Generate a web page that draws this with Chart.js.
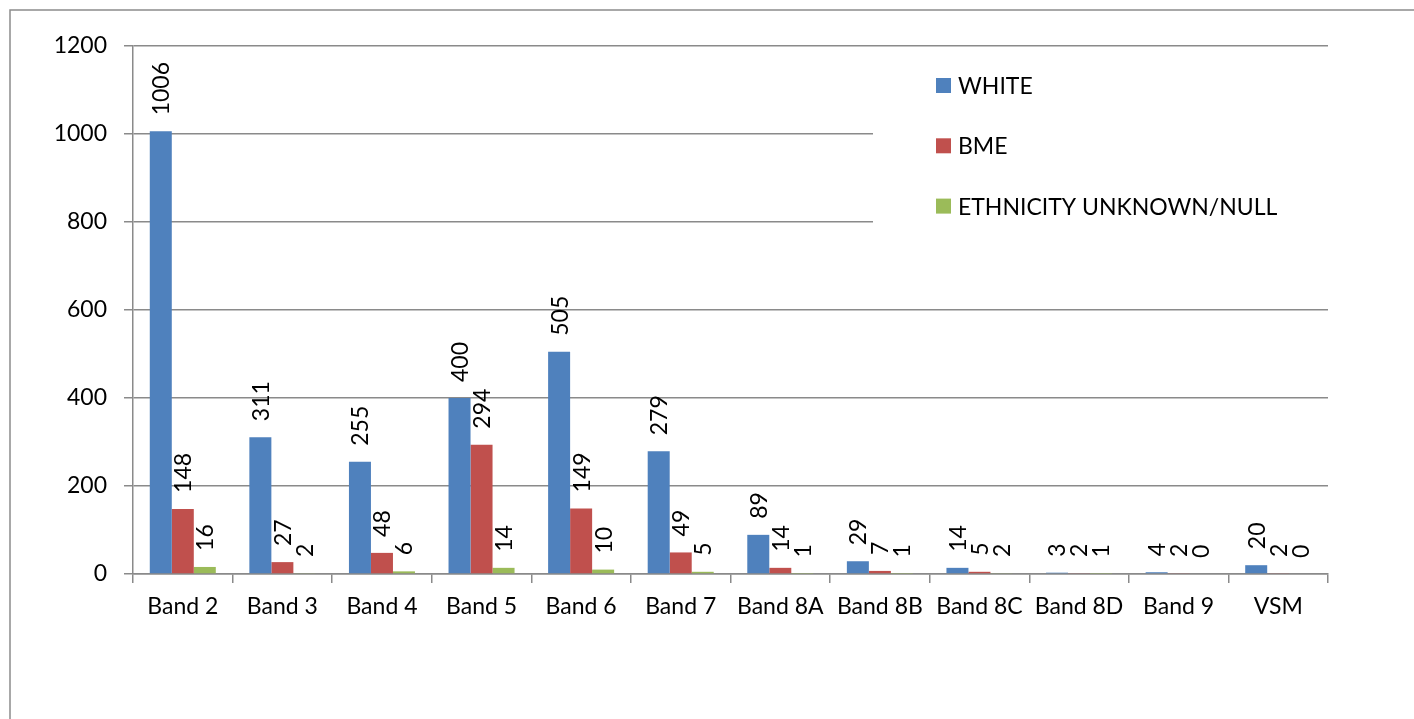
<!DOCTYPE html>
<html>
<head>
<meta charset="utf-8">
<title>Staff by band and ethnicity</title>
<script src="https://cdn.jsdelivr.net/npm/chart.js@4.4.1/dist/chart.umd.min.js"></script>
<style>
  html, body { margin: 0; padding: 0; background: #ffffff; }
  #wrap { position: relative; width: 1414px; height: 719px; }
</style>
</head>
<body>
<div id="wrap"><canvas id="chart" width="1414" height="719"></canvas></div>
<script>
// Pay bands along the x axis
const bands = ['Band 2', 'Band 3', 'Band 4', 'Band 5', 'Band 6', 'Band 7',
               'Band 8A', 'Band 8B', 'Band 8C', 'Band 8D', 'Band 9', 'VSM'];

// Headcount per band for each ethnicity group
const white   = [1006, 311, 255, 400, 505, 279, 89, 29, 14, 3, 4, 20];
const bme     = [148, 27, 48, 294, 149, 49, 14, 7, 5, 2, 2, 2];
const unknown = [16, 2, 6, 14, 10, 5, 1, 1, 2, 1, 0, 0];

const seriesNames = ['WHITE', 'BME', 'ETHNICITY UNKNOWN/NULL'];

// Value axis ticks
const yTicks = [0, 200, 400, 600, 800, 1000, 1200];

const FONT = 'Lato, "Open Sans", "Noto Sans", sans-serif';
const FONT_SIZE = 23;
const GRID = '#8a8a8a';
const colours = ['#4F81BD', '#C0504D', '#9BBB59'];

// Outer frame around the whole chart
const framePlugin = {
  id: 'frame',
  beforeDraw(chart) {
    const ctx = chart.ctx;
    ctx.save();
    ctx.strokeStyle = '#8c8c8c';
    ctx.lineWidth = 1.5;
    ctx.strokeRect(10, 10, 3000, 3000);
    ctx.restore();
  }
};

// Legend box sitting inside the plot area, on top of the grid lines
const legendBoxPlugin = {
  id: 'legendBox',
  beforeDatasetsDraw(chart) {
    const ctx = chart.ctx;
    const area = chart.chartArea;
    ctx.save();
    ctx.fillStyle = '#ffffff';
    ctx.fillRect(873, 52, area.right - 873 + 3, 186);
    ctx.font = FONT_SIZE + 'px ' + FONT;
    ctx.textBaseline = 'middle';
    ctx.textAlign = 'left';
    chart.data.datasets.forEach((ds, i) => {
      const cy = 85.5 + i * 60.3;
      ctx.fillStyle = ds.backgroundColor;
      ctx.fillRect(936, cy - 7.5, 15, 15);
      ctx.fillStyle = '#000000';
      ctx.fillText(ds.label, 958, cy + 1);
    });
    ctx.restore();
  }
};

// Rotated value labels above each bar
const valueLabelPlugin = {
  id: 'valueLabels',
  afterDatasetsDraw(chart) {
    const ctx = chart.ctx;
    ctx.save();
    ctx.font = FONT_SIZE + 'px ' + FONT;
    ctx.fillStyle = '#000000';
    ctx.textAlign = 'left';
    ctx.textBaseline = 'middle';
    chart.data.datasets.forEach((ds, di) => {
      const meta = chart.getDatasetMeta(di);
      meta.data.forEach((bar, i) => {
        ctx.save();
        ctx.translate(bar.x + 1, bar.y - 16);
        ctx.rotate(-Math.PI / 2);
        ctx.fillText(String(ds.data[i]), 0, 0);
        ctx.restore();
      });
    });
    ctx.restore();
  }
};

new Chart(document.getElementById('chart'), {
  type: 'bar',
  data: {
    labels: bands,
    datasets: [
      { label: seriesNames[0], data: white,   backgroundColor: colours[0] },
      { label: seriesNames[1], data: bme,     backgroundColor: colours[1] },
      { label: seriesNames[2], data: unknown, backgroundColor: colours[2] }
    ]
  },
  options: {
    responsive: false,
    animation: false,
    events: [],
    layout: { padding: { left: 0, top: 46, right: 86, bottom: 0 } },
    datasets: {
      bar: { categoryPercentage: 0.663, barPercentage: 1.0, borderWidth: 0 }
    },
    plugins: {
      legend: { display: false },
      tooltip: { enabled: false },
      title: { display: false }
    },
    scales: {
      x: {
        offset: true,
        grid: {
          offset: true,
          drawOnChartArea: false,
          drawTicks: true,
          tickLength: 9,
          color: GRID,
          lineWidth: 1.5
        },
        border: { display: true, color: GRID, width: 1.5 },
        ticks: {
          font: { family: FONT, size: FONT_SIZE },
          color: '#000000',
          padding: 10,
          maxRotation: 0,
          autoSkip: false
        },
        afterFit(scale) { scale.height = 719 - 574; }
      },
      y: {
        min: 0,
        max: 1200,
        afterBuildTicks(scale) { scale.ticks = yTicks.map(v => ({ value: v })); },
        grid: {
          color: GRID,
          lineWidth: 1.5,
          drawTicks: true,
          tickLength: 9
        },
        border: { display: true, color: GRID, width: 1.5 },
        ticks: {
          font: { family: FONT, size: FONT_SIZE },
          color: '#000000',
          padding: 17,
          callback: (v) => String(v)
        },
        afterFit(scale) { scale.width = 133; }
      }
    }
  },
  plugins: [framePlugin, legendBoxPlugin, valueLabelPlugin]
});
</script>
</body>
</html>
